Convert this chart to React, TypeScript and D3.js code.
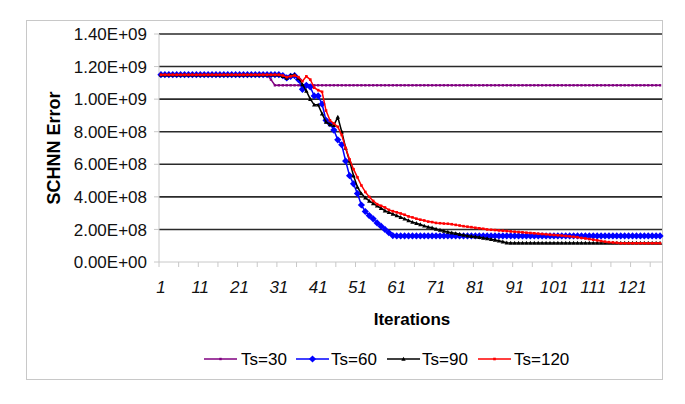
import React from "react";
import * as d3 from "d3";

const iterations: number[] = d3.range(1, 129);
const xTickLabels = ["1", "11", "21", "31", "41", "51", "61", "71", "81", "91", "101", "111", "121"];
const yTicks = [0, 2e8, 4e8, 6e8, 8e8, 1e9, 1.2e9, 1.4e9];
const yTickLabels = ["0.00E+00", "2.00E+08", "4.00E+08", "6.00E+08", "8.00E+08", "1.00E+09", "1.20E+09", "1.40E+09"];
const seriesNames = ["Ts=30", "Ts=60", "Ts=90", "Ts=120"];

// values in units of 1e8
const ts30 = [
  11.5, 11.5, 11.5, 11.5, 11.5, 11.5, 11.5, 11.5, 11.5, 11.5,
  11.5, 11.5, 11.5, 11.5, 11.5, 11.5, 11.5, 11.5, 11.5, 11.5,
  11.5, 11.5, 11.5, 11.5, 11.5, 11.5, 11.5, 11.5, 11.2, 10.85,
  10.85, 10.85, 10.85, 10.85, 10.85, 10.85, 10.85, 10.85, 10.85, 10.85,
  10.85, 10.85, 10.85, 10.85, 10.85, 10.85, 10.85, 10.85, 10.85, 10.85,
  10.85, 10.85, 10.85, 10.85, 10.85, 10.85, 10.85, 10.85, 10.85, 10.85,
  10.85, 10.85, 10.85, 10.85, 10.85, 10.85, 10.85, 10.85, 10.85, 10.85,
  10.85, 10.85, 10.85, 10.85, 10.85, 10.85, 10.85, 10.85, 10.85, 10.85,
  10.85, 10.85, 10.85, 10.85, 10.85, 10.85, 10.85, 10.85, 10.85, 10.85,
  10.85, 10.85, 10.85, 10.85, 10.85, 10.85, 10.85, 10.85, 10.85, 10.85,
  10.85, 10.85, 10.85, 10.85, 10.85, 10.85, 10.85, 10.85, 10.85, 10.85,
  10.85, 10.85, 10.85, 10.85, 10.85, 10.85, 10.85, 10.85, 10.85, 10.85,
  10.85, 10.85, 10.85, 10.85, 10.85, 10.85, 10.85, 10.85,
];

const ts60 = [
  11.5, 11.5, 11.5, 11.5, 11.5, 11.5, 11.5, 11.5, 11.5, 11.5,
  11.5, 11.5, 11.5, 11.5, 11.5, 11.5, 11.5, 11.5, 11.5, 11.5,
  11.5, 11.5, 11.5, 11.5, 11.5, 11.5, 11.5, 11.5, 11.5, 11.5,
  11.5, 11.45, 11.3, 11.4, 11.45, 11.2, 10.6, 10.85, 10.75, 10.2,
  10.2, 9.7, 8.7, 8.5, 8.1, 7.5, 7.2, 6.2, 5.3, 4.8,
  4.2, 3.5, 3.1, 2.85, 2.65, 2.4, 2.2, 2.0, 1.8, 1.62,
  1.6, 1.6, 1.6, 1.6, 1.6, 1.6, 1.6, 1.6, 1.6, 1.6,
  1.6, 1.6, 1.6, 1.6, 1.6, 1.6, 1.6, 1.6, 1.6, 1.6,
  1.6, 1.6, 1.6, 1.6, 1.6, 1.6, 1.6, 1.6, 1.6, 1.6,
  1.6, 1.6, 1.6, 1.6, 1.6, 1.6, 1.6, 1.6, 1.6, 1.6,
  1.6, 1.6, 1.6, 1.6, 1.6, 1.6, 1.6, 1.6, 1.6, 1.6,
  1.6, 1.6, 1.6, 1.6, 1.6, 1.6, 1.6, 1.6, 1.6, 1.6,
  1.6, 1.6, 1.6, 1.6, 1.6, 1.6, 1.6, 1.6,
];

const ts90 = [
  11.5, 11.5, 11.5, 11.5, 11.5, 11.5, 11.5, 11.5, 11.5, 11.5,
  11.5, 11.5, 11.5, 11.5, 11.5, 11.5, 11.5, 11.5, 11.5, 11.5,
  11.5, 11.5, 11.5, 11.5, 11.5, 11.5, 11.5, 11.5, 11.5, 11.5,
  11.5, 11.4, 11.3, 11.45, 11.5, 11.3, 10.9, 10.5, 10.0, 9.65,
  9.65, 9.1, 8.6, 8.45, 8.4, 8.9, 8.0, 7.0, 6.2, 5.3,
  4.6, 4.2, 3.95, 3.75, 3.6, 3.45, 3.3, 3.15, 3.05, 2.95,
  2.85, 2.75, 2.65, 2.55, 2.45, 2.38, 2.3, 2.22, 2.15, 2.1,
  2.03, 1.97, 1.9, 1.85, 1.8, 1.76, 1.71, 1.66, 1.62, 1.58,
  1.55, 1.52, 1.48, 1.44, 1.4, 1.35, 1.3, 1.24, 1.18, 1.17,
  1.17, 1.17, 1.17, 1.17, 1.17, 1.17, 1.17, 1.17, 1.17, 1.17,
  1.17, 1.17, 1.17, 1.17, 1.17, 1.17, 1.17, 1.17, 1.17, 1.17,
  1.17, 1.17, 1.17, 1.17, 1.17, 1.17, 1.17, 1.17, 1.17, 1.17,
  1.17, 1.17, 1.17, 1.17, 1.17, 1.17, 1.17, 1.17,
];

const ts120 = [
  11.5, 11.5, 11.5, 11.5, 11.5, 11.5, 11.5, 11.5, 11.5, 11.5,
  11.5, 11.5, 11.5, 11.5, 11.5, 11.5, 11.5, 11.5, 11.5, 11.5,
  11.5, 11.5, 11.5, 11.5, 11.5, 11.5, 11.5, 11.5, 11.5, 11.5,
  11.5, 11.45, 11.35, 11.4, 11.45, 11.35, 11.1, 11.4, 11.2, 10.7,
  10.55, 10.45, 9.3, 8.7, 8.5, 8.3, 7.8, 7.0, 6.3, 5.7,
  5.2, 4.7, 4.3, 4.0, 3.75, 3.55, 3.45, 3.35, 3.2, 3.12,
  3.05, 2.98, 2.9, 2.8, 2.74, 2.66, 2.6, 2.55, 2.48, 2.45,
  2.4, 2.38, 2.36, 2.35, 2.32, 2.28, 2.24, 2.2, 2.17, 2.14,
  2.1, 2.07, 2.04, 2.0, 1.98, 1.96, 1.94, 1.92, 1.9, 1.88,
  1.86, 1.84, 1.82, 1.8, 1.78, 1.76, 1.74, 1.72, 1.7, 1.68,
  1.66, 1.64, 1.62, 1.6, 1.58, 1.55, 1.52, 1.48, 1.45, 1.41,
  1.37, 1.33, 1.29, 1.25, 1.22, 1.2, 1.18, 1.15, 1.15, 1.15,
  1.15, 1.15, 1.15, 1.15, 1.15, 1.15, 1.15, 1.15,
];

const seriesValues = [ts30, ts60, ts90, ts120];
const seriesColors = ["#800080", "#0000ff", "#000000", "#ff0000"];
const seriesMarkers = ["dash", "diamond", "triangle", "square"];

const W = 685;
const H = 404;
const plotL = 159;
const plotR = 662;
const plotT = 34;
const plotB = 262;
const FONT = "'Liberation Sans', Arial, sans-serif";

function marker(kind: string, x: number, y: number, color: string, key: string | number, scale = 1) {
  if (kind === "diamond") {
    const s = 3.6 * scale;
    return <path key={key} d={`M${x},${y - s}L${x + s},${y}L${x},${y + s}L${x - s},${y}Z`} fill={color} />;
  }
  if (kind === "triangle") {
    const s = 2.2 * scale;
    return <path key={key} d={`M${x},${y - s}L${x + s},${y + s * 0.8}L${x - s},${y + s * 0.8}Z`} fill={color} />;
  }
  if (kind === "square") {
    const s = 1.3 * scale;
    return <rect key={key} x={x - s} y={y - s} width={2 * s} height={2 * s} fill={color} />;
  }
  const s = 1.2 * scale;
  return <rect key={key} x={x - s} y={y - s} width={2 * s} height={2 * s} fill={color} />;
}

export default function App() {
  const x = d3.scaleBand<number>().domain(iterations).range([plotL, plotR]).padding(0);
  const bw = x.bandwidth();
  const cx = (i: number) => (x(i) as number) + bw / 2;
  const y = d3.scaleLinear().domain([0, 1.4e9]).range([plotB, plotT]);
  const line = d3
    .line<number>()
    .x((_, idx) => cx(iterations[idx]))
    .y((v) => y(v * 1e8));

  const xTickBoundaries = d3.range(0, 129, 5);

  const legendItems = [
    { lx: 204, tx: 241 },
    { lx: 296, tx: 331 },
    { lx: 387, tx: 422 },
    { lx: 478, tx: 514 },
  ];
  const legendY = 359;

  return (
    <svg width={W} height={H} style={{ position: "absolute", left: 0, top: 0 }}>
      <rect x={0} y={0} width={W} height={H} fill="#ffffff" />
      <rect x={26.5} y={20.5} width={636} height={359} fill="#ffffff" stroke="#c8c8c8" strokeWidth={1} />

      {/* gridlines */}
      {yTicks.slice(1).map((t, i) => (
        <line key={`g${i}`} x1={plotL} x2={plotR} y1={y(t)} y2={y(t)} stroke="#2a2a2a" strokeWidth={1.6} />
      ))}

      {/* axes */}
      <line x1={plotL} x2={plotL} y1={plotT} y2={plotB} stroke="#c8c8c8" strokeWidth={1} />
      <line x1={plotL} x2={plotR} y1={plotB} y2={plotB} stroke="#c8c8c8" strokeWidth={1} />
      {yTicks.map((t, i) => (
        <line key={`yt${i}`} x1={plotL - 5} x2={plotL} y1={y(t)} y2={y(t)} stroke="#c8c8c8" strokeWidth={1} />
      ))}
      {xTickBoundaries.map((b, i) => {
        const xx = plotL + b * bw;
        return <line key={`xt${i}`} x1={xx} x2={xx} y1={plotB} y2={plotB + 5} stroke="#c8c8c8" strokeWidth={1} />;
      })}

      {/* y tick labels */}
      {yTicks.map((t, i) => (
        <text key={`yl${i}`} x={147} y={y(t)} dy="0.36em" textAnchor="end" fontFamily={FONT} fontSize={17} fill="#111">
          {yTickLabels[i]}
        </text>
      ))}

      {/* x tick labels */}
      {xTickLabels.map((lab) => (
        <text key={`xl${lab}`} x={cx(+lab)} y={287} dy="0.36em" textAnchor="middle" fontFamily={FONT} fontSize={17} fontStyle="italic" fill="#111">
          {lab}
        </text>
      ))}

      {/* axis titles */}
      <text x={412} y={319} dy="0.36em" textAnchor="middle" fontFamily={FONT} fontSize={17} fontWeight="bold" fill="#000">
        Iterations
      </text>
      <text transform={`translate(54,148) rotate(-90)`} dy="0.36em" textAnchor="middle" fontFamily={FONT} fontSize={18} fontWeight="bold" fill="#000">
        SCHNN Error
      </text>

      {/* series */}
      {seriesValues.map((vals, si) => (
        <g key={`s${si}`}>
          <path d={line(vals) || ""} fill="none" stroke={seriesColors[si]} strokeWidth={1.5} strokeLinejoin="round" />
          {vals.map((v, idx) => marker(seriesMarkers[si], cx(iterations[idx]), y(v * 1e8), seriesColors[si], idx))}
        </g>
      ))}

      {/* legend */}
      {legendItems.map((it, i) => (
        <g key={`lg${i}`}>
          <line x1={it.lx} x2={it.lx + 33} y1={legendY} y2={legendY} stroke={seriesColors[i]} strokeWidth={1.5} />
          {marker(seriesMarkers[i], it.lx + 16.5, legendY, seriesColors[i], `lm${i}`)}
          <text x={it.tx} y={legendY} dy="0.36em" fontFamily={FONT} fontSize={17} fill="#000">
            {seriesNames[i]}
          </text>
        </g>
      ))}
    </svg>
  );
}
